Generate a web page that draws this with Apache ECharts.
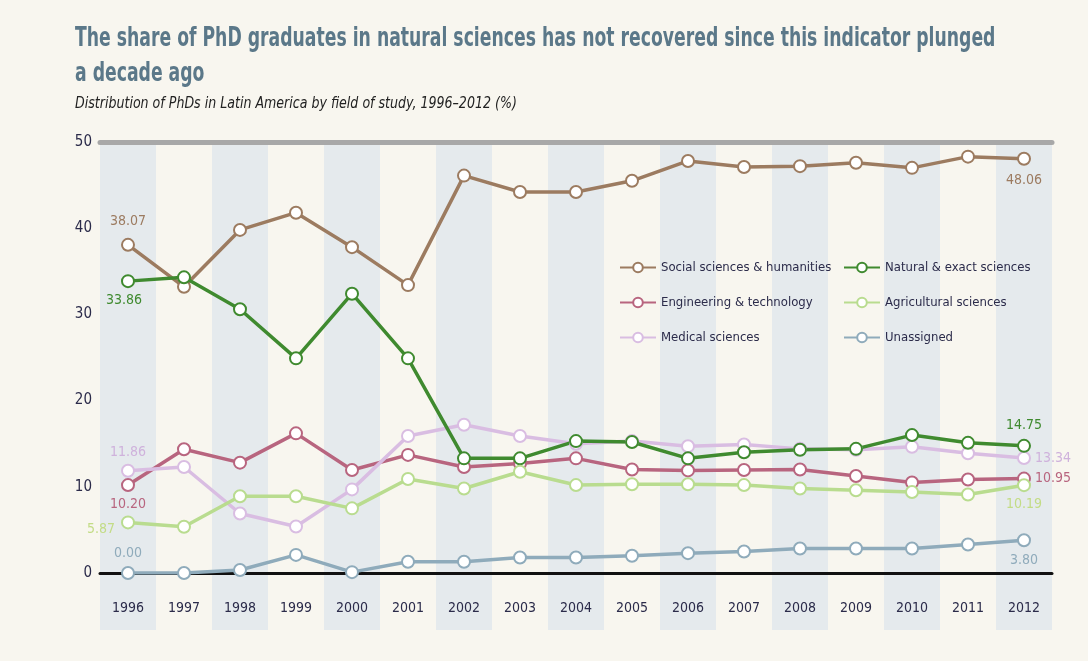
<!DOCTYPE html>
<html>
<head>
<meta charset="utf-8">
<script src="https://cdn.jsdelivr.net/npm/echarts@6/dist/echarts.min.js"></script>
<style>
  html, body { margin: 0; padding: 0; background: #f8f6ef; }
  #chart { width: 1088px; height: 661px; }
</style>
</head>
<body>
<div id="chart"></div>
<script>
const years = ['1996', '1997', '1998', '1999', '2000', '2001', '2002', '2003', '2004',
  '2005', '2006', '2007', '2008', '2009', '2010', '2011', '2012']

const social = [38.07, 33.2, 39.8, 41.8, 37.8, 33.4, 46.1, 44.2, 44.2, 45.5, 47.8, 47.1, 47.2, 47.6, 47.0, 48.3, 48.06]
const natural = [33.86, 34.3, 30.6, 24.9, 32.4, 24.9, 13.3, 13.3, 15.3, 15.2, 13.3, 14.0, 14.3, 14.4, 16.0, 15.1, 14.75]
const engineering = [10.2, 14.35, 12.8, 16.2, 11.95, 13.7, 12.3, 12.7, 13.3, 12.0, 11.9, 11.95, 12.0, 11.25, 10.5, 10.85, 10.95]
const agricultural = [5.87, 5.37, 8.9, 8.9, 7.5, 10.9, 9.8, 11.75, 10.2, 10.3, 10.3, 10.2, 9.8, 9.6, 9.4, 9.1, 10.19]
const medical = [11.86, 12.3, 6.9, 5.4, 9.7, 15.9, 17.2, 15.9, 15.0, 15.3, 14.7, 14.9, 14.4, 14.3, 14.65, 13.9, 13.34]
const unassigned = [0, 0, 0.35, 2.1, 0.1, 1.3, 1.3, 1.8, 1.8, 2.0, 2.3, 2.5, 2.85, 2.85, 2.85, 3.3, 3.8]

const titleText = 'The share of PhD graduates in natural sciences has not recovered since this indicator plunged\na decade ago'
const subtitleText = 'Distribution of PhDs in Latin America by field of study, 1996–2012 (%)'

const font = "'DejaVu Sans Condensed', 'DejaVu Sans', sans-serif"

// name, values, colour, label placement for first / last point
const seriesDefs = [
  { name: 'Social sciences & humanities', data: social, color: '#9c7b60', labelColor: '#9c7b60', first: ['top', 9, [0, 0]], last: ['bottom', 8, [0, 0]] },
  { name: 'Engineering & technology', data: engineering, color: '#b8657f', labelColor: '#b8657f', first: ['bottom', 5, [0, 0]], last: ['right', 4, [0, 0]] },
  { name: 'Medical sciences', data: medical, color: '#d9bde2', labelColor: '#cfb2dc', first: ['top', 4, [0, 0]], last: ['right', 4, [0, 0]] },
  { name: 'Natural & exact sciences', data: natural, color: '#3f8a2f', labelColor: '#3f8a2f', first: ['bottom', 5, [-4, 0]], last: ['top', 6, [0, 0]] },
  { name: 'Agricultural sciences', data: agricultural, color: '#b9dc8f', labelColor: '#c3dc86', first: ['left', 6, [0, 7]], last: ['bottom', 5, [0, 0]] },
  { name: 'Unassigned', data: unassigned, color: '#8fabbb', labelColor: '#8fabbb', first: ['top', 6, [0, 0]], last: ['bottom', 6, [0, 0]] }
]

const chart = echarts.init(document.getElementById('chart'))

const series = seriesDefs.map(function (s) {
  const last = s.data.length - 1
  return {
    name: s.name,
    type: 'line',
    xAxisIndex: 0,
    yAxisIndex: 0,
    symbol: 'circle',
    symbolSize: 12,
    z: 3,
    color: s.color,
    lineStyle: { color: s.color, width: 3.5 },
    itemStyle: { color: '#ffffff', borderColor: s.color, borderWidth: 2 },
    emphasis: { disabled: true },
    data: s.data.map(function (v, i) {
      if (i !== 0 && i !== last) return v
      const p = i === 0 ? s.first : s.last
      return {
        value: v,
        label: {
          show: true,
          position: p[0],
          distance: p[1],
          offset: p[2],
          formatter: function (d) { return d.value.toFixed(2) },
          color: s.labelColor,
          fontFamily: font,
          fontSize: 14
        }
      }
    })
  }
})

const legendBase = {
  orient: 'vertical',
  itemWidth: 36,
  itemHeight: 12,
  itemGap: 22,
  textStyle: { fontFamily: font, fontSize: 13, color: '#2b2b4a' }
}

const option = {
  backgroundColor: '#f8f6ef',
  animation: false,
  graphic: [
    {
      type: 'text',
      x: 75,
      y: 21,
      scaleX: 0.71,
      style: {
        text: titleText,
        font: "bold 27px 'DejaVu Sans Condensed', sans-serif",
        fill: '#5b7889',
        lineHeight: 35,
        verticalAlign: 'top'
      }
    },
    {
      type: 'text',
      x: 75,
      y: 97,
      scaleX: 0.935,
      style: {
        text: subtitleText,
        font: "italic 15px 'DejaVu Sans Condensed', sans-serif",
        fill: '#222',
        verticalAlign: 'top'
      }
    }
  ],
  legend: [
    Object.assign({}, legendBase, { left: 614, top: 256, data: [seriesDefs[0].name, seriesDefs[1].name, seriesDefs[2].name] }),
    Object.assign({}, legendBase, { left: 838, top: 256, data: [seriesDefs[3].name, seriesDefs[4].name, seriesDefs[5].name] })
  ],
  grid: [
    { left: 100, right: 36, top: 142, bottom: 88 },
    { left: 100, right: 36, top: 573, bottom: 31 }
  ],
  xAxis: [
    {
      type: 'category',
      gridIndex: 0,
      data: years,
      boundaryGap: true,
      axisLine: { show: true, onZero: true, lineStyle: { color: '#111', width: 3 } },
      axisTick: { show: false },
      axisLabel: { fontFamily: font, fontSize: 14, color: '#2b2b4a', margin: 28 },
      splitArea: { show: true, areaStyle: { color: ['#e5eaed', '#f8f6ef'] } },
      z: 2
    },
    {
      type: 'category',
      gridIndex: 0,
      position: 'top',
      data: years,
      axisLine: { show: true, lineStyle: { color: '#a8a8a8', width: 5 } },
      axisTick: { show: false },
      axisLabel: { show: false },
      z: 4
    },
    {
      type: 'category',
      gridIndex: 1,
      data: years,
      axisLine: { show: false },
      axisTick: { show: false },
      axisLabel: { show: false },
      splitArea: { show: true, areaStyle: { color: ['#e5eaed', '#f8f6ef'] } }
    }
  ],
  yAxis: [
    {
      type: 'value',
      gridIndex: 0,
      min: 0,
      max: 50,
      interval: 10,
      axisLine: { show: false },
      axisTick: { show: false },
      axisLabel: { fontFamily: font, fontSize: 15, color: '#2b2b4a', margin: 8 },
      splitLine: { show: true, lineStyle: { color: '#9c9c9c', width: 2 } }
    },
    {
      type: 'value',
      gridIndex: 1,
      show: false,
      splitLine: { show: false }
    }
  ],
  series: series
}

chart.setOption(option)
</script>
</body>
</html>
